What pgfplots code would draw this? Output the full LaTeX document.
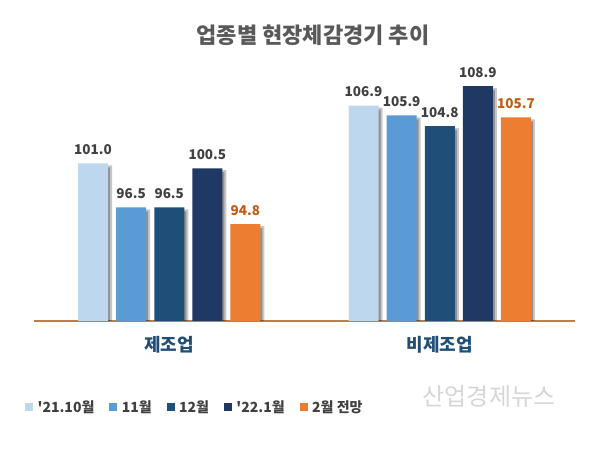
\documentclass[border=0pt]{standalone}
\usepackage{pgfplots}
\pgfplotsset{compat=1.18}
\usepackage{fontspec}
\setmainfont{Noto Sans CJK KR}
\newfontfamily\krplain{Noto Sans CJK KR}[Ligatures=TeXOff]
\definecolor{cA}{HTML}{BDD7EE}
\definecolor{cB}{HTML}{5B9BD5}
\definecolor{cC}{HTML}{1F4E79}
\definecolor{cD}{HTML}{203864}
\definecolor{cE}{HTML}{ED7D31}
\definecolor{axisline}{HTML}{BF7F45}
\definecolor{valtxt}{HTML}{404040}
\definecolor{valorange}{HTML}{C55A11}
\definecolor{cattxt}{HTML}{1F4E79}
\definecolor{titletxt}{HTML}{595959}
\begin{document}
\begin{tikzpicture}
\useasboundingbox (-34pt,-133pt) rectangle (571pt,321pt);
\begin{axis}[
  at={(0pt,0pt)}, anchor=south west,
  scale only axis, width=541pt, height=245.7pt,
  xmin=-0.5, xmax=1.5, ymin=84.9, ymax=110,
  ybar, bar width=30pt,
  axis x line*=bottom, axis y line=none,
  x axis line style={draw=axisline, line width=1.5pt, -},
  xtick={0,1}, xticklabels={제조업,비제조업},
  major tick length=0pt,
  xticklabel style={font=\bfseries\fontsize{18}{18}\selectfont, text=cattxt, yshift=-12pt},
  /pgf/number format/assume math mode=true,
  /pgf/number format/fixed, /pgf/number format/fixed zerofill, /pgf/number format/precision=1,
  nodes near coords style={font=\bfseries\fontsize{13.5}{13.5}\selectfont, text=valtxt, anchor=south, yshift=5pt},
  clip=false,
  legend columns=5,
  legend style={at={(axis description cs:-0.0166,-0.35)}, anchor=west, draw=none, fill=none,
    font=\krplain\bfseries\fontsize{14}{14}\selectfont, text=valtxt, inner sep=0pt,
    nodes={inner sep=0pt},
    /tikz/every odd column/.append style={column sep=5pt},
    /tikz/every even column/.append style={column sep=15pt}},
  shd/.style={forget plot, draw=none, fill=black, fill opacity=0.22, bar width=30pt},
  shd2/.style={forget plot, draw=none, fill=black, fill opacity=0.28, bar width=27pt},
  mainbar/.style={forget plot, draw=none, nodes near coords},
]
% shadows
\addplot[shd, bar shift=-72.2pt] coordinates {(0,100.8) (1,106.7)};
\addplot[shd2, bar shift=-72.7pt] coordinates {(0,100.6) (1,106.5)};
\addplot[shd, bar shift=-34.1pt] coordinates {(0,96.3) (1,105.7)};
\addplot[shd2, bar shift=-34.6pt] coordinates {(0,96.1) (1,105.5)};
\addplot[shd, bar shift=4pt] coordinates {(0,96.3) (1,104.6)};
\addplot[shd2, bar shift=3.5pt] coordinates {(0,96.1) (1,104.4)};
\addplot[shd, bar shift=42.1pt] coordinates {(0,100.3) (1,108.7)};
\addplot[shd2, bar shift=41.6pt] coordinates {(0,100.1) (1,108.5)};
\addplot[shd, bar shift=80.2pt] coordinates {(0,94.6) (1,105.5)};
\addplot[shd2, bar shift=79.7pt] coordinates {(0,94.4) (1,105.3)};
% bars
\addplot[mainbar, fill=cA, bar shift=-76.2pt] coordinates {(0,101.0) (1,106.9)};
\addplot[mainbar, fill=cB, bar shift=-38.1pt] coordinates {(0,96.5) (1,105.9)};
\addplot[mainbar, fill=cC, bar shift=0pt] coordinates {(0,96.5) (1,104.8)};
\addplot[mainbar, fill=cD, bar shift=38.1pt] coordinates {(0,100.5) (1,108.9)};
\addplot[mainbar, fill=cE, bar shift=76.2pt, nodes near coords style={text=valorange}] coordinates {(0,94.8) (1,105.7)};
\addlegendimage{legend image code/.code={\fill[cA] (0pt,-3.5pt) rectangle (7pt,3.5pt);}}
\addlegendentry{'21.10월}
\addlegendimage{legend image code/.code={\fill[cB] (0pt,-3.5pt) rectangle (7pt,3.5pt);}}
\addlegendentry{11월}
\addlegendimage{legend image code/.code={\fill[cC] (0pt,-3.5pt) rectangle (7pt,3.5pt);}}
\addlegendentry{12월}
\addlegendimage{legend image code/.code={\fill[cD] (0pt,-3.5pt) rectangle (7pt,3.5pt);}}
\addlegendentry{'22.1월}
\addlegendimage{legend image code/.code={\fill[cE] (0pt,-3.5pt) rectangle (7pt,3.5pt);}}
\addlegendentry{2월 전망}
\end{axis}
\node[font=\bfseries\fontsize{22}{22}\selectfont, text=titletxt] at (279pt,286pt) {업종별 현장체감경기 추이};
\node[font=\fontsize{24}{24}\selectfont, text=black!16] at (455pt,-76pt) {산업경제뉴스};
\end{tikzpicture}
\end{document}
